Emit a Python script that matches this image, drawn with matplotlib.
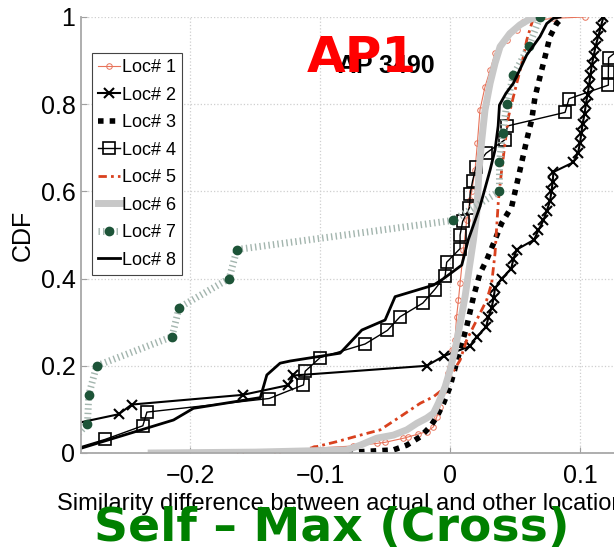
import matplotlib
matplotlib.use("Agg")
import matplotlib.pyplot as plt

plt.rcParams['font.family'] = ['Liberation Sans', 'DejaVu Sans']

# CDF curves (x = similarity difference, y = CDF)
loc1_x = [-0.1615, -0.133, -0.105, -0.075, -0.0564, -0.05, -0.036, -0.032, -0.025, -0.018,
          -0.0128, -0.0102, -0.0077, -0.004, -0.0013, 0.0, 0.0013, 0.0038, 0.005, 0.0064,
          0.0077, 0.0103, 0.0128, 0.0154, 0.0167, 0.0192, 0.021, 0.023, 0.0269, 0.0308,
          0.0346, 0.0436, 0.0513, 0.0564, 0.0795, 0.1038]
loc1_y = [0.0, 0.003, 0.011, 0.016, 0.022, 0.0245, 0.0337, 0.037, 0.043, 0.049,
          0.06, 0.083, 0.106, 0.144, 0.183, 0.198, 0.236, 0.259, 0.3125, 0.35,
          0.389, 0.466, 0.534, 0.58, 0.6, 0.649, 0.71, 0.787, 0.84, 0.878,
          0.917, 0.947, 0.97, 0.989, 0.997, 1.0]

loc2_x = [-0.35, -0.32, -0.29, -0.255, -0.245, -0.1595, -0.1245, -0.1205, -0.018, -0.005,
          0.015, 0.0205, 0.0277, 0.0295, 0.032, 0.0335, 0.0346, 0.0397, 0.047, 0.0487,
          0.0513, 0.0646, 0.068, 0.0718, 0.0744, 0.0769, 0.078, 0.079, 0.0795, 0.0949,
          0.0985, 0.1, 0.101, 0.102, 0.1035, 0.1045, 0.1058, 0.107, 0.108, 0.109,
          0.1105, 0.112, 0.114, 0.116, 0.118]
loc2_y = [k / 45 for k in range(1, 46)]

loc3_x = [-0.079, -0.069, -0.0436, -0.0333, -0.023, -0.0154, -0.0102, -0.005, 0.0, 0.0013,
          0.0077, 0.0128, 0.018, 0.023, 0.0282, 0.0346, 0.0397, 0.0474, 0.0538, 0.059,
          0.0628, 0.0654, 0.0692, 0.0731, 0.0769, 0.082, 0.0846]
loc3_y = [0.0, 0.003, 0.007, 0.018, 0.037, 0.06, 0.083, 0.114, 0.152, 0.167,
          0.236, 0.29, 0.358, 0.412, 0.443, 0.489, 0.527, 0.565, 0.649, 0.718,
          0.764, 0.817, 0.863, 0.909, 0.955, 0.985, 0.993]

loc4_x = [-0.30, -0.2654, -0.2364, -0.2333, -0.1392, -0.1128, -0.1115, -0.1, -0.0654, -0.0482,
          -0.0385, -0.021, -0.0118, -0.0038, -0.0026, 0.0077, 0.0077, 0.0097, 0.0149, 0.0154,
          0.0174, 0.02, 0.0277, 0.0423, 0.0441, 0.0885, 0.0915, 0.1218, 0.1218, 0.122,
          0.135, 0.145, 0.16]
loc4_y = [0.0] + [k / 32 for k in range(1, 33)]

loc5_x = [-0.1077, -0.0872, -0.069, -0.0538, -0.0385, -0.023, -0.0128, -0.0064, 0.0, 0.0077,
          0.0128, 0.018, 0.023, 0.0282, 0.032, 0.0346, 0.0359, 0.0372, 0.0397, 0.0423,
          0.0449, 0.0487, 0.0526, 0.0564, 0.059, 0.0628, 0.0641]
loc5_y = [0.011, 0.026, 0.041, 0.053, 0.083, 0.114, 0.129, 0.144, 0.175, 0.213,
          0.259, 0.29, 0.32, 0.351, 0.389, 0.458, 0.519, 0.58, 0.649, 0.71,
          0.771, 0.817, 0.863, 0.909, 0.947, 0.985, 0.997]

loc6_x = [-0.23, -0.15, -0.0795, -0.069, -0.0564, -0.0436, -0.0333, -0.0256, -0.018, -0.0128,
          -0.009, -0.0038, 0.0, 0.0038, 0.0077, 0.0115, 0.0149, 0.018, 0.0205, 0.0223,
          0.0244, 0.0269, 0.0308, 0.0346, 0.0385, 0.046, 0.0538, 0.06, 0.0667]
loc6_y = [0.0, 0.002, 0.007, 0.018, 0.034, 0.041, 0.053, 0.068, 0.08, 0.091,
          0.114, 0.152, 0.19, 0.236, 0.297, 0.358, 0.427, 0.489, 0.55, 0.649,
          0.718, 0.787, 0.848, 0.894, 0.932, 0.962, 0.982, 0.993, 1.0]

loc7_x = [-0.30, -0.279, -0.278, -0.272, -0.214, -0.2085, -0.170, -0.164, 0.002, 0.038,
          0.038, 0.0405, 0.0436, 0.0487, 0.0608, 0.0692]
loc7_y = [0.0] + [k / 15 for k in range(1, 16)]

loc8_x = [-0.296, -0.2128, -0.1975, -0.146, -0.141, -0.1308, -0.123, -0.0846, -0.0679, -0.05,
          -0.0423, -0.0128, -0.005, 0.009, 0.014, 0.023, 0.0308, 0.0346, 0.037, 0.038,
          0.043, 0.0487, 0.059, 0.0692, 0.0744, 0.0795, 0.0846]
loc8_y = [0.0, 0.0757, 0.1025, 0.127, 0.179, 0.206, 0.211, 0.229, 0.282, 0.305,
          0.3585, 0.385, 0.40, 0.431, 0.489, 0.565, 0.649, 0.695, 0.75, 0.798,
          0.825, 0.848, 0.913, 0.955, 0.985, 0.997, 1.0]

fig = plt.figure(figsize=(6.14, 5.47), dpi=100)
ax = fig.add_axes([81 / 614, 94 / 547, 564 / 614, 436 / 547])

ax.plot(loc1_x, loc1_y, color='#e8735a', lw=0.8, marker='o', ms=4, mfc='none', mew=0.7, label='Loc# 1')
ax.plot(loc2_x, loc2_y, color='black', lw=1.5, marker='x', ms=7, mew=1.5, label='Loc# 2')
ax.plot(loc3_x, loc3_y, color='black', lw=4, linestyle=(0, (1, 1.1)), label='Loc# 3')
ax.plot(loc4_x, loc4_y, color='black', lw=1, marker='s', ms=8, mfc='none', mew=1.2, label='Loc# 4')
ax.plot(loc5_x, loc5_y, color='#d9411e', lw=2, linestyle=(0, (3, 1.5, 1, 1.5)), label='Loc# 5')
ax.plot(loc6_x, loc6_y, color='#c8c8c8', lw=5, label='Loc# 6')
ax.plot(loc7_x, loc7_y, color='#a3b5ae', lw=5, linestyle=(0, (0.2, 0.45)),
        marker='o', ms=6, mfc='#1d5438', mec='#1d5438', label='Loc# 7')
ax.plot(loc8_x, loc8_y, color='black', lw=2, label='Loc# 8')

ax.set_xlim(-0.284, 0.15)
ax.set_ylim(0, 1)
ax.set_xticks([-0.2, -0.1, 0, 0.1])
ax.set_xticklabels(['\u22120.2', '\u22120.1', '0', '0.1'])
ax.set_yticks([0, 0.2, 0.4, 0.6, 0.8, 1])
ax.set_yticklabels(['0', '0.2', '0.4', '0.6', '0.8', '1'])
ax.tick_params(direction='in', length=4, color='#a0a0a0', labelsize=18)
ax.tick_params(axis='x', pad=8)
ax.tick_params(axis='y', pad=4)
ax.grid(True, linestyle=':', color='#cfcfcf', lw=0.9)
for side in ['top', 'right']:
    ax.spines[side].set_visible(False)
for side in ['left', 'bottom']:
    ax.spines[side].set_color('#a8a8a8')
    ax.spines[side].set_linewidth(1.3)

ax.set_xlabel('Similarity difference between actual and other locations', fontsize=17,
              ha='left', va='baseline')
ax.xaxis.set_label_coords((57 - 81) / 564, (453 - 510) / 436)
ax.set_ylabel('CDF', fontsize=18, va='center')
ax.yaxis.set_label_coords((22.5 - 81) / 564, 0.5)

leg = ax.legend(loc='upper left', bbox_to_anchor=((92 - 81) / 564, (453 - 53) / 436),
                borderaxespad=0, fontsize=13, numpoints=1, handlelength=1.2,
                handletextpad=0.1, borderpad=0.35, labelspacing=0.58, fancybox=False,
                framealpha=1)
leg.get_frame().set_edgecolor('#444444')
leg.get_frame().set_linewidth(0.8)

fig.text(386 / 614, 1 - 66 / 547, 'AP 3490', fontsize=18, fontweight='bold',
         ha='center', va='center')
fig.text(362 / 614, 1 - 72 / 547, 'AP1', fontsize=36, fontweight='bold', color='red',
         family='DejaVu Sans', ha='center', va='baseline')
fig.text(331.5 / 614, 1 - 541 / 547, 'Self \u2013 Max (Cross)', fontsize=34, fontweight='bold',
         color='green', family='DejaVu Sans', ha='center', va='baseline')

fig.savefig('out.png', dpi=100)
